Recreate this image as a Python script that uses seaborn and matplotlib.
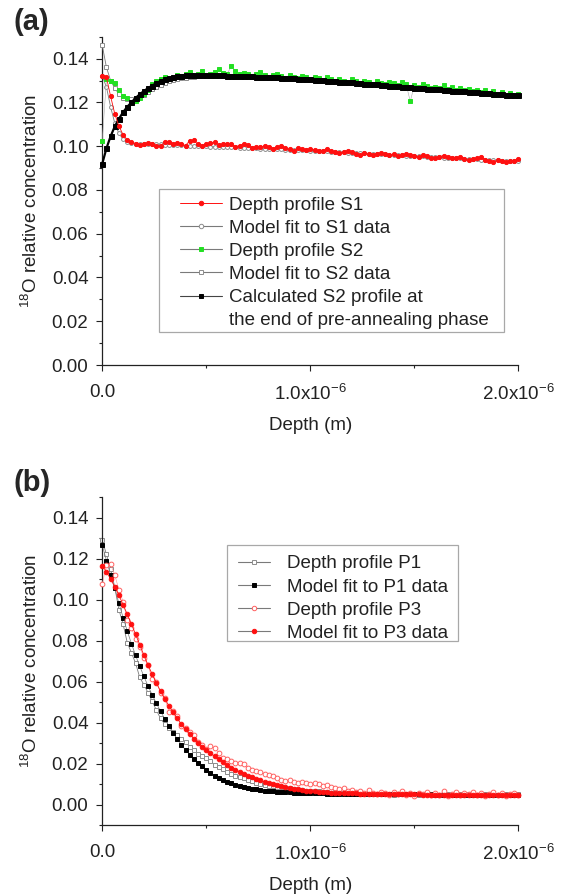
import numpy as np
import matplotlib
matplotlib.use("Agg")
import matplotlib.pyplot as plt
from matplotlib.lines import Line2D
from matplotlib.patches import Rectangle
from matplotlib.ticker import MultipleLocator, FormatStrFormatter
import seaborn as sns

# depth grid of the profiles, in nm
DEPTH_NM = [0, 20, 40, 60, 80, 100, 120, 140, 160, 180,
            200, 220, 240, 260, 280, 300, 320, 340, 360, 380,
            400, 420, 440, 460, 480, 500, 520, 540, 560, 580,
            600, 620, 640, 660, 680, 700, 720, 740, 760, 780,
            800, 820, 840, 860, 880, 900, 920, 940, 960, 980,
            1000, 1020, 1040, 1060, 1080, 1100, 1120, 1140, 1160, 1180,
            1200, 1220, 1240, 1260, 1280, 1300, 1320, 1340, 1360, 1380,
            1400, 1420, 1440, 1460, 1480, 1500, 1520, 1540, 1560, 1580,
            1600, 1620, 1640, 1660, 1680, 1700, 1720, 1740, 1760, 1780,
            1800, 1820, 1840, 1860, 1880, 1900, 1920, 1940, 1960, 1980,
            2000]

# ---- panel (a) ----
S1_DATA = [0.1322, 0.1315, 0.1228, 0.1148, 0.1092, 0.1052, 0.1030, 0.1020, 0.1012, 0.1005,
           0.1008, 0.1015, 0.1010, 0.1000, 0.1002, 0.1018, 0.1020, 0.1012, 0.1016, 0.1010,
           0.1003, 0.1025, 0.1026, 0.1008, 0.1002, 0.1010, 0.1014, 0.1018, 0.1005, 0.1008,
           0.1012, 0.1008, 0.0998, 0.1003, 0.1010, 0.1004, 0.0992, 0.0998, 0.0994, 0.1002,
           0.0998, 0.0988, 0.0995, 0.1002, 0.0992, 0.0985, 0.0980, 0.0990, 0.0986, 0.0982,
           0.0988, 0.0983, 0.0976, 0.0979, 0.0985, 0.0978, 0.0972, 0.0968, 0.0975, 0.0980,
           0.0972, 0.0966, 0.0960, 0.0968, 0.0962, 0.0958, 0.0964, 0.0968, 0.0962, 0.0960,
           0.0963, 0.0956, 0.0958, 0.0964, 0.0960, 0.0954, 0.0950, 0.0958, 0.0955, 0.0947,
           0.0945, 0.0952, 0.0957, 0.0950, 0.0944, 0.0948, 0.0952, 0.0942, 0.0936, 0.0940,
           0.0945, 0.0952, 0.0938, 0.0933, 0.0928, 0.0936, 0.0930, 0.0926, 0.0934, 0.0930,
           0.0940]

S1_FIT = [0.1320, 0.1270, 0.1180, 0.1105, 0.1058, 0.1032, 0.1020, 0.1014, 0.1012, 0.1011,
          0.1011, 0.1010, 0.1009, 0.1009, 0.1008, 0.1007, 0.1006, 0.1005, 0.1005, 0.1004,
          0.1003, 0.1002, 0.1002, 0.1001, 0.1000, 0.0999, 0.0998, 0.0998, 0.0997, 0.0996,
          0.0995, 0.0995, 0.0994, 0.0993, 0.0992, 0.0991, 0.0991, 0.0990, 0.0989, 0.0988,
          0.0988, 0.0987, 0.0986, 0.0985, 0.0984, 0.0984, 0.0983, 0.0982, 0.0981, 0.0981,
          0.0980, 0.0979, 0.0978, 0.0977, 0.0976, 0.0975, 0.0974, 0.0973, 0.0972, 0.0971,
          0.0970, 0.0969, 0.0968, 0.0967, 0.0966, 0.0965, 0.0964, 0.0963, 0.0962, 0.0961,
          0.0960, 0.0959, 0.0958, 0.0957, 0.0956, 0.0955, 0.0954, 0.0953, 0.0952, 0.0951,
          0.0950, 0.0949, 0.0948, 0.0947, 0.0946, 0.0945, 0.0944, 0.0943, 0.0942, 0.0941,
          0.0940, 0.0939, 0.0938, 0.0937, 0.0936, 0.0935, 0.0934, 0.0933, 0.0932, 0.0931,
          0.0930]

S2_DATA = [0.1025, 0.1305, 0.1300, 0.1288, 0.1255, 0.1228, 0.1222, 0.1195, 0.1205, 0.1218,
           0.1240, 0.1258, 0.1282, 0.1296, 0.1305, 0.1315, 0.1308, 0.1312, 0.1326, 0.1318,
           0.1328, 0.1338, 0.1322, 0.1330, 0.1345, 0.1326, 0.1332, 0.1340, 0.1352, 0.1335,
           0.1330, 0.1365, 0.1345, 0.1328, 0.1336, 0.1330, 0.1322, 0.1330, 0.1338, 0.1325,
           0.1318, 0.1325, 0.1330, 0.1320, 0.1312, 0.1326, 0.1318, 0.1310, 0.1322, 0.1315,
           0.1306, 0.1318, 0.1310, 0.1302, 0.1315, 0.1305, 0.1298, 0.1308, 0.1300, 0.1292,
           0.1305, 0.1296, 0.1288, 0.1300, 0.1292, 0.1285, 0.1296, 0.1290, 0.1282, 0.1295,
           0.1288, 0.1280, 0.1292, 0.1284, 0.1205, 0.1278, 0.1270, 0.1284, 0.1276, 0.1268,
           0.1272, 0.1265, 0.1278, 0.1262, 0.1270, 0.1258, 0.1266, 0.1255, 0.1262, 0.1250,
           0.1258, 0.1248, 0.1255, 0.1245, 0.1252, 0.1240, 0.1246, 0.1236, 0.1242, 0.1232,
           0.1238]

S2_FIT = [0.1460, 0.1360, 0.1300, 0.1265, 0.1238, 0.1222, 0.1215, 0.1215, 0.1219, 0.1226,
          0.1236, 0.1248, 0.1260, 0.1271, 0.1281, 0.1289, 0.1296, 0.1301, 0.1306, 0.1310,
          0.1313, 0.1316, 0.1318, 0.1319, 0.1320, 0.1320, 0.1320, 0.1320, 0.1320, 0.1320,
          0.1319, 0.1319, 0.1318, 0.1318, 0.1317, 0.1317, 0.1316, 0.1315, 0.1315, 0.1314,
          0.1313, 0.1312, 0.1311, 0.1310, 0.1309, 0.1308, 0.1307, 0.1306, 0.1305, 0.1304,
          0.1303, 0.1302, 0.1300, 0.1299, 0.1298, 0.1296, 0.1295, 0.1293, 0.1292, 0.1290,
          0.1289, 0.1288, 0.1286, 0.1285, 0.1283, 0.1282, 0.1280, 0.1279, 0.1277, 0.1276,
          0.1274, 0.1273, 0.1271, 0.1270, 0.1268, 0.1267, 0.1265, 0.1264, 0.1262, 0.1261,
          0.1259, 0.1258, 0.1256, 0.1255, 0.1253, 0.1252, 0.1250, 0.1249, 0.1247, 0.1246,
          0.1245, 0.1243, 0.1242, 0.1240, 0.1239, 0.1238, 0.1236, 0.1235, 0.1234, 0.1232,
          0.1231]

S2_PREANNEAL = [0.0920, 0.0990, 0.1045, 0.1090, 0.1125, 0.1155, 0.1180, 0.1200, 0.1220, 0.1237,
                0.1252, 0.1265, 0.1277, 0.1288, 0.1297, 0.1305, 0.1311, 0.1316, 0.1320, 0.1322,
                0.1324, 0.1325, 0.1325, 0.1325, 0.1325, 0.1324, 0.1324, 0.1324, 0.1323, 0.1323,
                0.1322, 0.1322, 0.1321, 0.1321, 0.1320, 0.1320, 0.1319, 0.1318, 0.1318, 0.1317,
                0.1316, 0.1315, 0.1314, 0.1313, 0.1312, 0.1311, 0.1310, 0.1309, 0.1308, 0.1306,
                0.1305, 0.1304, 0.1302, 0.1301, 0.1300, 0.1298, 0.1297, 0.1295, 0.1294, 0.1292,
                0.1291, 0.1289, 0.1288, 0.1286, 0.1285, 0.1283, 0.1282, 0.1280, 0.1278, 0.1277,
                0.1275, 0.1274, 0.1272, 0.1271, 0.1269, 0.1268, 0.1266, 0.1265, 0.1263, 0.1262,
                0.1260, 0.1259, 0.1257, 0.1256, 0.1254, 0.1253, 0.1251, 0.1250, 0.1248, 0.1247,
                0.1246, 0.1244, 0.1243, 0.1241, 0.1240, 0.1239, 0.1237, 0.1236, 0.1235, 0.1233,
                0.1232]

# ---- panel (b) ----
P1_DATA = [0.1290, 0.1220, 0.1150, 0.1060, 0.0950, 0.0880, 0.0790, 0.0740, 0.0690, 0.0620,
           0.0585, 0.0545, 0.0504, 0.0460, 0.0420, 0.0392, 0.0375, 0.0356, 0.0340, 0.0322,
           0.0303, 0.0283, 0.0265, 0.0248, 0.0235, 0.0225, 0.0210, 0.0195, 0.0183, 0.0172,
           0.0160, 0.0150, 0.0139, 0.0134, 0.0128, 0.0121, 0.0113, 0.0107, 0.0101, 0.0097,
           0.0091, 0.0089, 0.0086, 0.0085, 0.0083, 0.0080, 0.0076, 0.0073, 0.0070, 0.0068,
           0.0066, 0.0064, 0.0066, 0.0060, 0.0062, 0.0058, 0.0061, 0.0057, 0.0055, 0.0058,
           0.0054, 0.0053, 0.0055, 0.0050, 0.0054, 0.0051, 0.0049, 0.0053, 0.0050, 0.0052,
           0.0048, 0.0051, 0.0054, 0.0049, 0.0050, 0.0052, 0.0047, 0.0050, 0.0053, 0.0049,
           0.0051, 0.0048, 0.0052, 0.0050, 0.0047, 0.0051, 0.0053, 0.0049, 0.0050, 0.0052,
           0.0048, 0.0050, 0.0053, 0.0049, 0.0051, 0.0047, 0.0050, 0.0052, 0.0048, 0.0050,
           0.0049]

P1_FIT = [0.1265, 0.1190, 0.1120, 0.1055, 0.0982, 0.0912, 0.0847, 0.0785, 0.0728, 0.0675,
          0.0625, 0.0578, 0.0535, 0.0494, 0.0455, 0.0418, 0.0383, 0.0350, 0.0320, 0.0292,
          0.0266, 0.0244, 0.0222, 0.0203, 0.0186, 0.0168, 0.0153, 0.0141, 0.0130, 0.0120,
          0.0111, 0.0104, 0.0097, 0.0091, 0.0085, 0.0080, 0.0077, 0.0074, 0.0071, 0.0068,
          0.0065, 0.0064, 0.0062, 0.0061, 0.0060, 0.0059, 0.0058, 0.0057, 0.0057, 0.0056,
          0.0055, 0.0055, 0.0054, 0.0054, 0.0053, 0.0053, 0.0052, 0.0052, 0.0052, 0.0051,
          0.0051, 0.0051, 0.0050, 0.0050, 0.0050, 0.0050, 0.0050, 0.0050, 0.0049, 0.0049,
          0.0049, 0.0049, 0.0049, 0.0049, 0.0049, 0.0049, 0.0049, 0.0049, 0.0049, 0.0049,
          0.0048, 0.0048, 0.0048, 0.0048, 0.0048, 0.0048, 0.0048, 0.0048, 0.0048, 0.0048,
          0.0048, 0.0048, 0.0048, 0.0048, 0.0048, 0.0048, 0.0048, 0.0048, 0.0048, 0.0048,
          0.0048]

P3_DATA = [0.1075, 0.1170, 0.1172, 0.1120, 0.1048, 0.0990, 0.0900, 0.0862, 0.0808, 0.0770,
           0.0715, 0.0680, 0.0610, 0.0598, 0.0545, 0.0520, 0.0452, 0.0455, 0.0432, 0.0385,
           0.0372, 0.0352, 0.0338, 0.0305, 0.0290, 0.0272, 0.0285, 0.0277, 0.0250, 0.0228,
           0.0222, 0.0210, 0.0204, 0.0205, 0.0200, 0.0178, 0.0168, 0.0165, 0.0160, 0.0150,
           0.0142, 0.0138, 0.0128, 0.0118, 0.0115, 0.0120, 0.0110, 0.0104, 0.0112, 0.0106,
           0.0100, 0.0104, 0.0098, 0.0090, 0.0096, 0.0085, 0.0082, 0.0075, 0.0080, 0.0068,
           0.0072, 0.0060, 0.0065, 0.0055, 0.0072, 0.0058, 0.0050, 0.0062, 0.0054, 0.0045,
           0.0060, 0.0052, 0.0068, 0.0048, 0.0056, 0.0042, 0.0058, 0.0050, 0.0062, 0.0046,
           0.0055, 0.0048, 0.0066, 0.0044, 0.0052, 0.0060, 0.0045, 0.0054, 0.0050, 0.0063,
           0.0047, 0.0058, 0.0042, 0.0052, 0.0060, 0.0046, 0.0055, 0.0040, 0.0052, 0.0058,
           0.0048]

P3_FIT = [0.1165, 0.1135, 0.1100, 0.1062, 0.1020, 0.0975, 0.0928, 0.0880, 0.0830, 0.0780,
          0.0728, 0.0680, 0.0635, 0.0593, 0.0553, 0.0516, 0.0482, 0.0450, 0.0420, 0.0392,
          0.0366, 0.0343, 0.0321, 0.0301, 0.0283, 0.0266, 0.0250, 0.0235, 0.0220, 0.0206,
          0.0192, 0.0180, 0.0169, 0.0160, 0.0150, 0.0141, 0.0133, 0.0125, 0.0118, 0.0111,
          0.0104, 0.0098, 0.0093, 0.0088, 0.0084, 0.0080, 0.0077, 0.0074, 0.0071, 0.0068,
          0.0066, 0.0064, 0.0062, 0.0061, 0.0059, 0.0058, 0.0057, 0.0056, 0.0055, 0.0055,
          0.0054, 0.0054, 0.0053, 0.0053, 0.0052, 0.0052, 0.0051, 0.0051, 0.0051, 0.0050,
          0.0050, 0.0050, 0.0049, 0.0049, 0.0049, 0.0049, 0.0049, 0.0048, 0.0048, 0.0048,
          0.0048, 0.0048, 0.0048, 0.0048, 0.0048, 0.0047, 0.0047, 0.0047, 0.0047, 0.0047,
          0.0047, 0.0047, 0.0047, 0.0047, 0.0047, 0.0047, 0.0047, 0.0047, 0.0047, 0.0047,
          0.0047]

LEGEND_A = ["Depth profile S1", "Model fit to S1 data", "Depth profile S2",
            "Model fit to S2 data", "Calculated S2 profile at",
            "the end of pre-annealing phase"]
LEGEND_B = ["Depth profile P1", "Model fit to P1 data",
            "Depth profile P3", "Model fit to P3 data"]
XTICK_LABELS = ["0.0", "1.0x10$^{-6}$", "2.0x10$^{-6}$"]
YLABEL = "$^{18}$O relative concentration"
XLABEL = "Depth (m)"

RED = "#ff1010"
GREEN = "#22e022"
GREY = "#8c8c8c"
LINE = "#7a7a7a"
INK = "#222222"
FS = 13.5

sns.set_theme(style="ticks")
plt.rcParams["font.family"] = ["Liberation Sans", "DejaVu Sans"]
plt.rcParams["mathtext.default"] = "regular"

fig = plt.figure(figsize=(5.66, 8.96), dpi=100)
ax_a = fig.add_axes([0.1807, 0.5926, 0.7353, 0.3664])
ax_b = fig.add_axes([0.1807, 0.0792, 0.7353, 0.3661])

depth = np.array(DEPTH_NM) * 1e-9


def draw(ax, values, marker, ms, face, edge, line, lw, z):
    sns.lineplot(x=depth, y=values, ax=ax, errorbar=None, legend=False,
                 color=line, linewidth=lw, marker=marker, markersize=ms,
                 markerfacecolor=face, markeredgecolor=edge,
                 markeredgewidth=0.7, clip_on=False, zorder=z)


def handle(marker, face, edge, line, lw=0.8, ms=3.2):
    return Line2D([], [], color=line, lw=lw, marker=marker, markersize=ms,
                  markerfacecolor=face, markeredgecolor=edge, markeredgewidth=0.7)


def style_axes(ax, ymin):
    ax.set_xlim(0, 2e-6)
    ax.set_ylim(ymin, 0.15)
    ax.set_xticks([0, 1e-6, 2e-6], labels=XTICK_LABELS)
    ax.xaxis.set_minor_locator(MultipleLocator(0.5e-6))
    ax.yaxis.set_major_locator(MultipleLocator(0.02))
    ax.yaxis.set_minor_locator(MultipleLocator(0.01))
    ax.yaxis.set_major_formatter(FormatStrFormatter("%.2f"))
    sns.despine(ax=ax)
    for s in ("left", "bottom"):
        ax.spines[s].set_linewidth(0.9)
        ax.spines[s].set_color(INK)
    ax.tick_params(which="both", direction="out", color=INK, width=0.8,
                   labelsize=FS, labelcolor=INK)
    ax.tick_params(which="major", length=4.5)
    ax.tick_params(which="minor", length=2.3)
    ax.tick_params(axis="y", which="major", pad=5.5)
    ax.tick_params(axis="x", which="major", pad=9)
    ax.set_ylabel(YLABEL, fontsize=FS, color=INK)
    ax.set_xlabel(XLABEL, fontsize=FS, color=INK)
    ax.yaxis.set_label_coords(-0.147, 0.5)
    ax.xaxis.set_label_coords(0.5, -0.157)


# panel (a)
draw(ax_a, S1_FIT, "o", 2.8, "white", GREY, LINE, 0.6, 2)
draw(ax_a, S2_FIT, "s", 2.8, "white", GREY, LINE, 0.6, 3)
draw(ax_a, S2_DATA, "s", 3.0, GREEN, GREEN, "#aaaaaa", 0.4, 4)
draw(ax_a, S2_PREANNEAL, "s", 3.6, "black", "black", "black", 1.6, 5)
draw(ax_a, S1_DATA, "o", 3.0, RED, RED, RED, 0.6, 6)
style_axes(ax_a, 0.0)

handles_a = [handle("o", RED, RED, RED, lw=0.7),
             handle("o", "white", GREY, LINE),
             handle("s", GREEN, GREEN, LINE),
             handle("s", "white", GREY, LINE),
             handle("s", "black", "black", "#444444"),
             Line2D([], [], linestyle="none")]
ax_a.legend(handles_a, LEGEND_A, loc="upper left", bbox_to_anchor=(0.1867, 0.5133),
            borderaxespad=0, borderpad=0, frameon=False, fontsize=FS,
            handlelength=2.24, handletextpad=0.37, labelspacing=0.32,
            labelcolor=INK)
ax_a.add_patch(Rectangle((0.136, 0.1005), 0.829, 0.4355, transform=ax_a.transAxes,
                         fill=False, edgecolor="#a8a8a8", lw=0.9, clip_on=False))

# panel (b)
draw(ax_b, P1_DATA, "s", 2.8, "white", GREY, LINE, 0.6, 2)
draw(ax_b, P1_FIT, "s", 2.6, "black", "black", LINE, 0.5, 3)
draw(ax_b, P3_DATA, "o", 3.4, "white", "#ff6060", "#ff9090", 0.4, 4)
draw(ax_b, P3_FIT, "o", 3.3, RED, RED, RED, 0.6, 5)
style_axes(ax_b, -0.01)

handles_b = [handle("s", "white", GREY, LINE),
             handle("s", "black", "black", LINE),
             handle("o", "white", "#ff6060", LINE),
             handle("o", RED, RED, LINE)]
ax_b.legend(handles_b, LEGEND_B, loc="upper left", bbox_to_anchor=(0.326, 0.8223),
            borderaxespad=0, borderpad=0, frameon=False, fontsize=FS,
            handlelength=1.7, handletextpad=0.89, labelspacing=0.32,
            labelcolor=INK)
ax_b.add_patch(Rectangle((0.2996, 0.561), 0.555, 0.2927, transform=ax_b.transAxes,
                         fill=False, edgecolor="#a8a8a8", lw=0.9, clip_on=False))

fig.text(0.024, 0.975, "(a)", fontsize=21, fontweight="bold", va="center", ha="left")
fig.text(0.024, 0.461, "(b)", fontsize=21, fontweight="bold", va="center", ha="left")

fig.savefig("out.png", dpi=100)
